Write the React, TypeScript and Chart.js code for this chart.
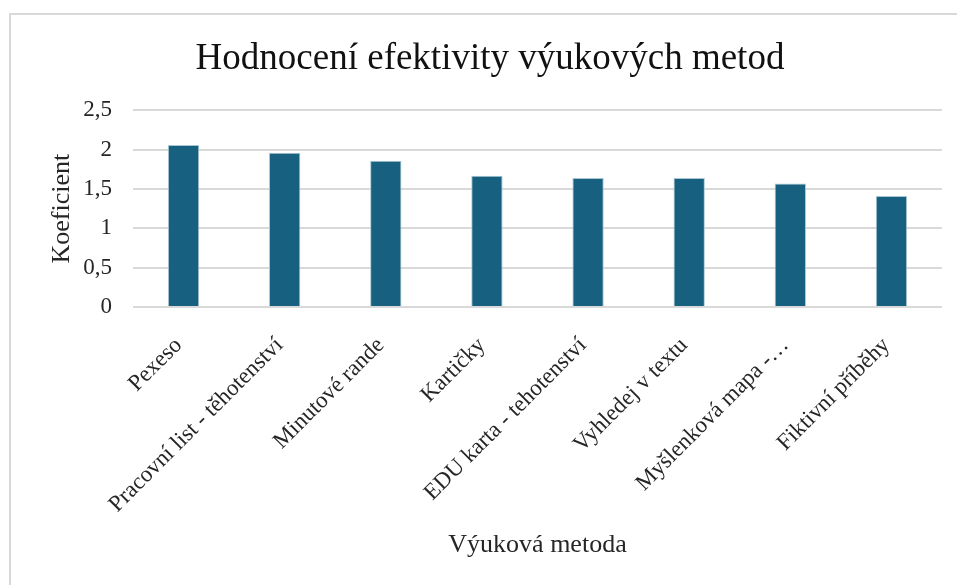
import { useEffect, useRef } from "react";
import { Chart, registerables } from "chart.js";

Chart.register(...registerables);

const chartTitle = "Hodnocení efektivity výukových metod";
const xAxisTitle = "Výuková metoda";
const yAxisTitle = "Koeficient";

const categories = [
  "Pexeso",
  "Pracovní list - těhotenství",
  "Minutové rande",
  "Kartičky",
  "EDU karta - tehotenství",
  "Vyhledej v textu",
  "Myšlenková mapa -…",
  "Fiktivní příběhy",
];

const values = [2.06, 1.96, 1.86, 1.67, 1.64, 1.64, 1.57, 1.41];

const yMin = 0;
const yMax = 2.5;
const yStep = 0.5;

const FONT = "'Liberation Serif', 'Times New Roman', serif";
const TEXT = "#262626";

const borderPlugin = {
  id: "outerBorder",
  beforeDraw(chart: any) {
    const ctx = chart.ctx;
    ctx.save();
    ctx.strokeStyle = "#d9d9d9";
    ctx.lineWidth = 2;
    ctx.strokeRect(10, 14, chart.width + 20, chart.height + 20);
    ctx.restore();
  },
};

export default function App() {
  const canvasRef = useRef<HTMLCanvasElement | null>(null);

  useEffect(() => {
    document.body.style.margin = "0";
    document.body.style.overflow = "hidden";
    const canvas = canvasRef.current;
    if (!canvas) return;
    const chart = new Chart(canvas, {
      type: "bar",
      data: {
        labels: categories,
        datasets: [
          {
            data: values,
            backgroundColor: "#17607f",
            borderColor: "#a9c6d4",
            borderWidth: 1,
            barPercentage: 0.31,
            categoryPercentage: 1,
          },
        ],
      },
      options: {
        responsive: false,
        animation: false,
        maintainAspectRatio: false,
        layout: { padding: { left: 38, right: 15, top: 0, bottom: 0 } },
        plugins: {
          legend: { display: false },
          tooltip: { enabled: false },
          title: {
            display: true,
            text: chartTitle,
            color: "#111111",
            font: { family: FONT, size: 37, weight: "normal" },
            padding: { top: 37, bottom: 29 },
          },
        },
        scales: {
          x: {
            grid: { display: false, drawTicks: false },
            border: { display: false },
            ticks: {
              color: TEXT,
              font: { family: FONT, size: 23 },
              minRotation: 45,
              maxRotation: 45,
              autoSkip: false,
              padding: 25,
              labelOffset: -5,
            },
            title: {
              display: true,
              text: xAxisTitle,
              color: TEXT,
              font: { family: FONT, size: 26 },
              padding: { top: 0, bottom: 24 },
            },
            afterFit(scale: any) {
              scale.height = 278;
            },
          },
          y: {
            min: yMin,
            max: yMax,
            grid: { color: "#d9d9d9", lineWidth: 2, drawTicks: false },
            border: { display: false },
            ticks: {
              stepSize: yStep,
              color: TEXT,
              font: { family: FONT, size: 23 },
              padding: 21,
              callback: (v: any) => String(v).replace(".", ","),
            },
            title: {
              display: true,
              text: yAxisTitle,
              color: TEXT,
              font: { family: FONT, size: 26 },
              padding: { top: 9, bottom: 0 },
            },
            afterFit(scale: any) {
              scale.width = 95;
            },
          },
        },
      },
      plugins: [borderPlugin],
    });
    return () => chart.destroy();
  }, []);

  return (
    <div style={{ width: 957, height: 585, background: "#ffffff" }}>
      <canvas ref={canvasRef} width={957} height={585} style={{ display: "block" }} />
    </div>
  );
}
